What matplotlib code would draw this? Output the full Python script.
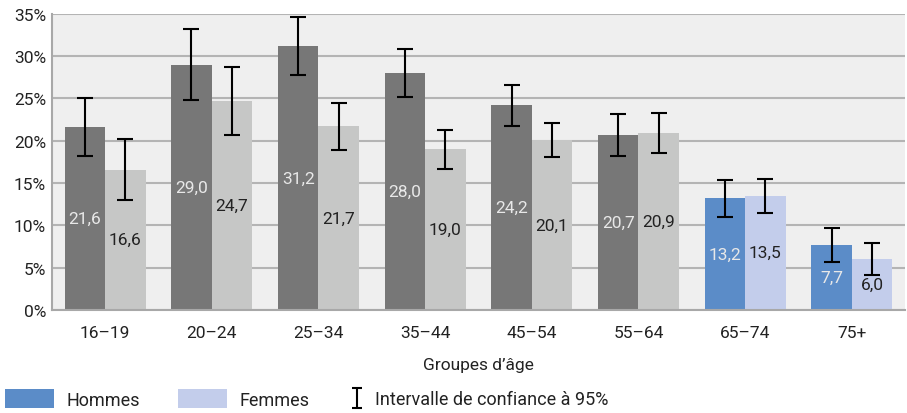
import matplotlib
matplotlib.use('Agg')

import numpy as np
import matplotlib.pyplot as plt
from matplotlib.patches import Patch
from matplotlib.lines import Line2D
from matplotlib.path import Path

plt.rcParams['font.family'] = ['Roboto', 'DejaVu Sans']

# =================== DATA ===================

groups = ['16–19', '20–24', '25–34', '35–44', '45–54', '55–64', '65–74', '75+']
hommes = [21.6, 29.0, 31.2, 28.0, 24.2, 20.7, 13.2, 7.7]
femmes = [16.6, 24.7, 21.7, 19.0, 20.1, 20.9, 13.5, 6.0]
hommes_low = [18.2, 24.8, 27.8, 25.2, 21.8, 18.2, 11.0, 5.7]
hommes_high = [25.0, 33.2, 34.6, 30.8, 26.6, 23.2, 15.4, 9.7]
femmes_low = [13.0, 20.7, 18.9, 16.7, 18.1, 18.5, 11.5, 4.1]
femmes_high = [20.2, 28.7, 24.5, 21.3, 22.1, 23.3, 15.5, 7.9]
highlight = [False, False, False, False, False, False, True, True]

# =================== PLOTTING ===================

fig = plt.figure(figsize=(9.07, 4.14), dpi=100)
ax = fig.add_axes([0.057, 0.249, 0.941, 0.715])
ax.set_facecolor('#efefef')

x = np.arange(len(groups))
w = 0.38

col_h = ['#5b8cc8' if h else '#777777' for h in highlight]
col_f = ['#c3cdeb' if h else '#c6c7c6' for h in highlight]

hv = np.array(hommes)
fv = np.array(femmes)
err_h = [hv - np.array(hommes_low), np.array(hommes_high) - hv]
err_f = [fv - np.array(femmes_low), np.array(femmes_high) - fv]

ax.bar(x - w / 2, hommes, w, color=col_h, zorder=2)
ax.bar(x + w / 2, femmes, w, color=col_f, zorder=2)
ax.errorbar(x - w / 2, hommes, yerr=err_h, fmt='none', ecolor='black',
            elinewidth=1.5, capsize=6, capthick=1.5, zorder=3)
ax.errorbar(x + w / 2, femmes, yerr=err_f, fmt='none', ecolor='black',
            elinewidth=1.5, capsize=6, capthick=1.5, zorder=3)

for xi, v in zip(x, hommes):
    ax.text(xi - w / 2, v / 2, f'{v:.1f}'.replace('.', ','), ha='center', va='center',
            color='#e8e8e8', fontsize=12.5, zorder=4)
for xi, v in zip(x, femmes):
    ax.text(xi + w / 2, v / 2, f'{v:.1f}'.replace('.', ','), ha='center', va='center',
            color='#222222', fontsize=12.5, zorder=4)

ax.set_xlim(-0.5, len(groups) - 0.5)
ax.set_ylim(0, 35)
ax.set_yticks(np.arange(0, 36, 5))
ax.set_yticklabels([f'{t}%' for t in range(0, 36, 5)])
ax.set_xticks(x)
ax.set_xticklabels(groups)
ax.tick_params(axis='both', length=0, labelsize=12.5, colors='#222222')
ax.tick_params(axis='x', pad=11)
ax.tick_params(axis='y', pad=4)
ax.yaxis.grid(True, color='#b4b4b4', linewidth=1.5, zorder=0)
ax.set_axisbelow(True)
for s in ['top', 'right']:
    ax.spines[s].set_visible(False)
for s in ['left', 'bottom']:
    ax.spines[s].set_color('#a8a8a8')
    ax.spines[s].set_linewidth(1.5)
ax.set_xlabel('Groupes d’âge', fontsize=12.5, color='#222222', labelpad=12)

# Legend
patch_handles = [Patch(facecolor='#5b8cc8'), Patch(facecolor='#c3cdeb')]
leg1 = fig.legend(patch_handles, ['Hommes', 'Femmes'],
                  loc='center left', bbox_to_anchor=(0.0055, 0.034), ncol=2, frameon=False,
                  fontsize=13, handlelength=2.7, handleheight=1.2, handletextpad=0.72,
                  columnspacing=2.1, labelcolor='#222222', borderpad=0, borderaxespad=0)

ibar = Path([(-0.5, 1), (0.5, 1), (0, 1), (0, -1), (-0.5, -1), (0.5, -1)],
            [Path.MOVETO, Path.LINETO, Path.MOVETO, Path.LINETO, Path.MOVETO, Path.LINETO])
ci_handle = Line2D([], [], linestyle='none', marker=ibar, markersize=14,
                   markeredgecolor='black', markeredgewidth=1.5)
fig.legend([ci_handle], ['Intervalle de confiance à 95%'],
           loc='center left', bbox_to_anchor=(0.384, 0.034), frameon=False,
           fontsize=13, handlelength=1.0, handletextpad=0.47,
           labelcolor='#222222', borderpad=0, borderaxespad=0)

fig.savefig('out.png', dpi=100)
